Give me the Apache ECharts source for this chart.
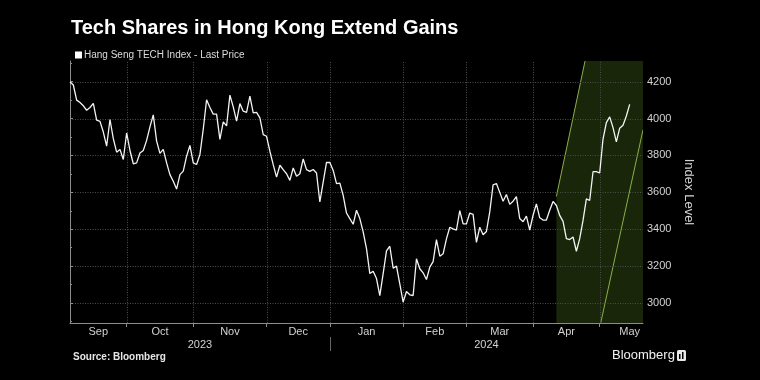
<!DOCTYPE html>
<html><head><meta charset="utf-8">
<script src="https://cdn.jsdelivr.net/npm/echarts@6/dist/echarts.min.js"></script>
<style>html,body{margin:0;padding:0;background:#000;} #c{width:760px;height:380px;}</style>
</head><body><div id="c"></div>
<script>
const titleText = 'Tech Shares in Hong Kong Extend Gains';
const seriesName = 'Hang Seng TECH Index - Last Price';
const sourceText = 'Source: Bloomberg';
// daily closes, one per HK trading day (Sep 2023 - May 2024)
const prices = [
  4200, 4182, 4100, 4087, 4069, 4045, 4060, 4082, 3991, 3985, 3927, 3851, 3995,
  3891, 3818, 3833, 3778, 3922, 3827, 3755, 3760, 3813, 3827, 3882, 3955,
  4020, 3878, 3811, 3833, 3760, 3696, 3660, 3618, 3696, 3715, 3796, 3855, 3760, 3751, 3805, 3942, 4102, 4060, 4024, 4024, 3887, 3982, 3960,
  4127, 4063, 3986, 4081, 4040, 4034, 4121, 4031, 4034, 4004, 3913, 3904, 3823, 3750, 3683, 3747, 3723, 3701, 3665, 3732, 3687, 3701, 3781, 3723, 3714,
  3724, 3705, 3548, 3656, 3762, 3762, 3719, 3647, 3650, 3584, 3488, 3458, 3427, 3503, 3458, 3386, 3295, 3160, 3173, 3133, 3040, 3160, 3283, 3308,
  3189, 3200, 3104, 3005, 3063, 3045, 3041, 3240, 3186, 3164, 3128, 3195, 3225, 3344, 3254, 3267, 3348, 3411, 3402, 3396, 3501, 3429, 3429, 3488,
  3481, 3329, 3411, 3370, 3388, 3494, 3641, 3648, 3600, 3552, 3588, 3535, 3552, 3577, 3458, 3441, 3471, 3396, 3476, 3538, 3462, 3450, 3450, 3503,
  3551, 3529, 3475, 3443, 3349, 3344, 3358, 3281, 3349, 3448, 3565, 3556, 3712, 3712, 3705, 3889, 3978, 4009, 3951, 3874, 3948, 3964, 4014, 4077
];
const monthNames = ['Sep','Oct','Nov','Dec','Jan','Feb','Mar','Apr','May'];
const monthBoundaries = [17, 37, 59, 78, 100, 119, 139, 159];   // trading-day index where a month starts
const monthLabelAt = [8.5, 27, 48, 68.5, 89, 109.5, 129, 149, 168];
const yearNames = ['2023', '2024'];
const yearLabelAt = [39, 125];
const yearBreakAt = [78];
const xMax = 172;
const yMin = 2892, yMax = 4312;
const yTicks = [3000, 3200, 3400, 3600, 3800, 4000, 4200];
const yMinorTicks = [2900, 3100, 3300, 3500, 3700, 3900, 4100, 4300];
// trend channel (day index, index level)
const channelUpper = [[146, 3578], [154.6, 4312]];
const channelLower = [[159.3, 2892], [172, 3939]];

const axisColor = '#8c8c8c';
const labelColor = '#d2d2d2';
const gridColor = '#4d4d4d';
const fontFam = '"Liberation Sans", Arial, sans-serif';

const chart = echarts.init(document.getElementById('c'), null, {renderer: 'canvas'});
chart.setOption({
  backgroundColor: '#000',
  animation: false,
  grid: {left: 70, right: 117, top: 61, bottom: 57, containLabel: false},
  legend: {
    data: [{name: seriesName, icon: 'rect'}],
    left: 70, top: 45, itemWidth: 7, itemHeight: 7, selectedMode: false,
    textStyle: {color: '#dcdcdc', fontSize: 10, fontFamily: fontFam, padding: [0, 0, 0, -3]}
  },
  graphic: [
    {type: 'text', left: 71, top: 18, style: {text: titleText, fill: '#ffffff', font: 'bold 20px ' + fontFam}},
    {type: 'text', left: 73, top: 352, style: {text: sourceText, fill: '#e6e6e6', font: 'bold 10px ' + fontFam}},
    {type: 'text', left: 612, top: 349, style: {text: 'Bloomberg', fill: '#f2f2f2', font: '13px ' + fontFam}},
    {type: 'rect', left: 677, top: 350, shape: {width: 9, height: 11, r: 1.5}, style: {fill: '#e8e8e8'}},
    {type: 'rect', left: 679, top: 354, shape: {width: 1.5, height: 5}, style: {fill: '#000'}},
    {type: 'rect', left: 682, top: 352, shape: {width: 1.5, height: 7}, style: {fill: '#000'}}
  ],
  xAxis: [
    {
      type: 'value', min: 0, max: xMax, position: 'bottom',
      axisLine: {show: true, lineStyle: {color: axisColor, width: 1}},
      axisTick: {show: true, customValues: monthBoundaries, length: 4, lineStyle: {color: axisColor}},
      axisLabel: {customValues: monthLabelAt, margin: 3, color: labelColor, fontSize: 11, fontFamily: fontFam,
        formatter: v => monthNames[monthLabelAt.indexOf(v)] || ''},
      splitLine: {show: false}
    },
    {
      type: 'value', min: 0, max: xMax, position: 'bottom', offset: 14,
      axisLine: {show: false},
      axisTick: {show: true, customValues: yearBreakAt, length: 14, lineStyle: {color: '#666'}},
      axisLabel: {customValues: yearLabelAt, margin: 2, color: labelColor, fontSize: 11, fontFamily: fontFam,
        formatter: v => yearNames[yearLabelAt.indexOf(v)] || ''},
      splitLine: {show: false}
    }
  ],
  yAxis: [
    {
      type: 'value', min: yMin, max: yMax, position: 'right',
      name: 'Index Level', nameLocation: 'middle', nameRotate: -90, nameGap: 28,
      nameTextStyle: {color: labelColor, fontSize: 13, fontFamily: fontFam},
      axisLine: {show: true, lineStyle: {color: axisColor, width: 1}},
      axisTick: {show: true, customValues: yTicks, length: 3, lineStyle: {color: axisColor}},
      axisLabel: {customValues: yTicks, margin: 4, color: labelColor, fontSize: 11, fontFamily: fontFam,
        formatter: v => String(v)},
      splitLine: {show: false}
    },
    {
      type: 'value', min: yMin, max: yMax, position: 'right',
      axisLine: {show: false},
      axisTick: {show: true, customValues: yMinorTicks, length: 2, lineStyle: {color: axisColor}},
      axisLabel: {show: false},
      splitLine: {show: false}
    }
  ],
  series: [
    {
      type: 'custom', z: -1, silent: true, clip: true,
      xAxisIndex: 0, yAxisIndex: 0,
      data: [[0, yMin]],
      renderItem: (params, api) => {
        const u0 = api.coord(channelUpper[0]), u1 = api.coord(channelUpper[1]);
        const l0 = api.coord(channelLower[0]), l1 = api.coord(channelLower[1]);
        const tr = api.coord([xMax, yMax]), br = api.coord([xMax, yMin]);
        const bl = api.coord([channelUpper[0][0], yMin]);
        const kids = [
          {type: 'polygon', shape: {points: [u0, u1, tr, br, bl]}, style: {fill: '#19260a'}},
          {type: 'line', shape: {x1: u0[0], y1: u0[1], x2: u1[0], y2: u1[1]}, style: {stroke: '#8ab04a', lineWidth: 1}},
          {type: 'line', shape: {x1: l0[0], y1: l0[1], x2: l1[0], y2: l1[1]}, style: {stroke: '#8ab04a', lineWidth: 1}}
        ];
        return {type: 'group', children: kids};
      }
    },
    {
      // horizontal and vertical gridlines
      type: 'custom', z: 0, silent: true, clip: true,
      xAxisIndex: 0, yAxisIndex: 0,
      data: [[0, yMin]],
      renderItem: (params, api) => {
        const kids = [];
        yTicks.forEach(v => {
          const a = api.coord([0, v]), b = api.coord([xMax, v]);
          const y = Math.round(a[1]) + 0.5;
          kids.push({type: 'line', shape: {x1: a[0], y1: y, x2: b[0], y2: y},
            style: {stroke: gridColor, lineWidth: 1, lineDash: [1, 1.5]}});
        });
        monthBoundaries.forEach(d => {
          const a = api.coord([d, yMin]), b = api.coord([d, yMax]);
          const x = Math.round(a[0]) + 0.5;
          kids.push({type: 'line', shape: {x1: x, y1: a[1], x2: x, y2: b[1]},
            style: {stroke: gridColor, lineWidth: 1, lineDash: [1, 1.5]}});
        });
        return {type: 'group', children: kids};
      }
    },
    {
      name: seriesName, type: 'line', xAxisIndex: 0, yAxisIndex: 0,
      data: prices.map((v, i) => [i, v]),
      showSymbol: false, symbol: 'none',
      lineStyle: {color: '#f4f4f4', width: 1.3},
      itemStyle: {color: '#ffffff'}
    }
  ]
});
</script>
</body></html>
